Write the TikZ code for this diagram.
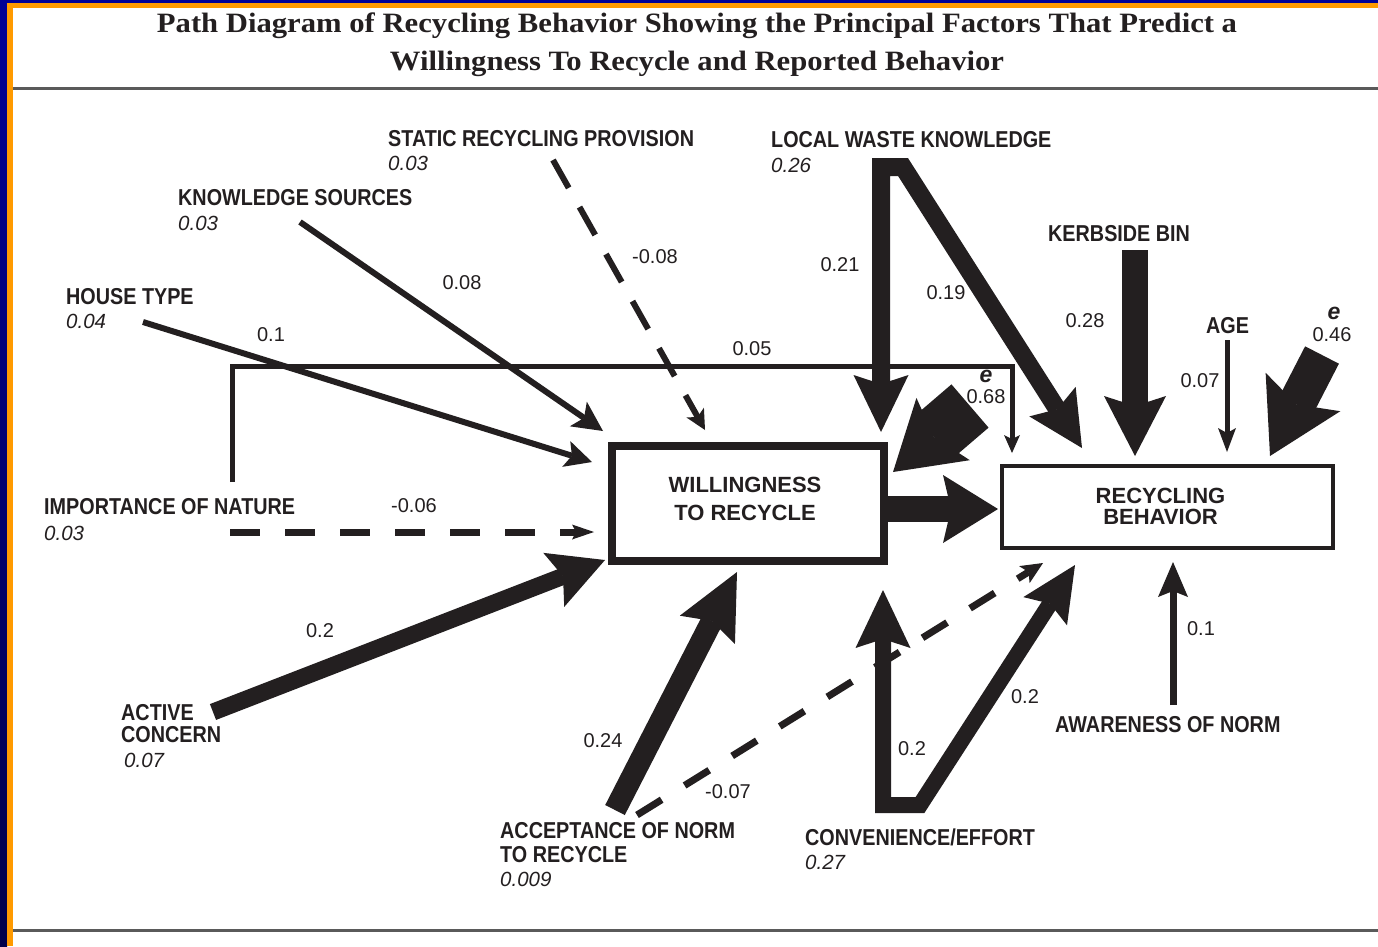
\documentclass[tikz,border=0pt]{standalone}
\usepackage{fontspec}
\usetikzlibrary{arrows.meta}
\setmainfont{Liberation Serif}
\newfontfamily\titlefam{Liberation Serif}[FakeStretch=1.095]
\newfontfamily\labelfam{Liberation Sans}[FakeStretch=0.86]
\newfontfamily\plainfam{Liberation Sans}
\definecolor{ink}{HTML}{231F20}
\definecolor{frametop}{HTML}{000096}
\definecolor{framelow}{HTML}{00004A}
\definecolor{frameorange}{HTML}{FF9A00}
\definecolor{rulegray}{HTML}{5A5A5A}
\tikzset{
  varname/.style={anchor=west, inner sep=0pt, text=ink, font=\labelfam\bfseries\fontsize{23}{22}\selectfont},
  varval/.style={anchor=west, inner sep=0pt, text=ink, font=\plainfam\itshape\fontsize{20.5}{22}\selectfont},
  coef/.style={inner sep=0pt, text=ink, font=\plainfam\fontsize{20}{22}\selectfont},
  errname/.style={inner sep=0pt, text=ink, font=\plainfam\bfseries\itshape\fontsize{23}{22}\selectfont},
  boxtext/.style={inner sep=0pt, text=ink, align=center, font=\plainfam\bfseries\fontsize{22}{28}\selectfont},
  titletext/.style={inner sep=0pt, anchor=base, text=ink, font=\titlefam\bfseries\fontsize{28}{32}\selectfont},
  conn/.style={draw=ink, line join=miter, line cap=butt},
  dashconn/.style={conn, dash pattern=on #1},
  tiphead/.style n args={3}{-{Stealth[length=#1, width=#2, inset=#3, line width=0pt]}},
}
\begin{document}
\begin{tikzpicture}[x=1pt, y=-1pt]
\useasboundingbox (0,0) rectangle (1378,946);
% page and frame
\fill[white] (0,0) rectangle (1378,946);
\shade[top color=frametop, bottom color=framelow] (0,0) rectangle (7,946);
\fill[frametop] (0,0) rectangle (1378,3);
\fill[frameorange] (7,3) rectangle (13,946);
\fill[frameorange] (7,3) rectangle (1378,8);
\draw[rulegray, line width=3pt] (13,88.5) -- (1378,88.5);
\draw[rulegray, line width=3pt] (13,930) -- (1378,930);

% title
\node[titletext] (title1) at (697,32)
  {Path Diagram of Recycling Behavior Showing the Principal Factors That Predict a};
\node[titletext] (title2) at (697,70)
  {Willingness To Recycle and Reported Behavior};

% the two outcome boxes
\node[draw=ink, line width=8pt, minimum width=272pt, minimum height=115pt, inner sep=0pt,
      label={[boxtext, xshift=-3pt, yshift=4.5pt]center:WILLINGNESS\\TO RECYCLE}] (will) at (748,503.5) {};
\node[draw=ink, line width=4pt, minimum width=331pt, minimum height=82pt, inner sep=0pt,
      label={[boxtext, font=\plainfam\bfseries\fontsize{22}{21}\selectfont, xshift=-7pt, yshift=0.5pt]center:RECYCLING\\BEHAVIOR}] (rb) at (1167.5,507) {};

% predictor labels
\node[varname] (srp) at (388,139) {STATIC RECYCLING PROVISION};
\node[varval] (srpv) at (388,163) {0.03};
\node[varname] (lwk) at (771,140) {LOCAL WASTE KNOWLEDGE};
\node[varval] (lwkv) at (771,165) {0.26};
\node[varname] (ks) at (178,198) {KNOWLEDGE SOURCES};
\node[varval] (ksv) at (178,223) {0.03};
\node[varname] (kb) at (1048,234) {KERBSIDE BIN};
\node[varname] (ht) at (66,297) {HOUSE TYPE};
\node[varval] (htv) at (66,321) {0.04};
\node[varname] (age) at (1206,326) {AGE};
\node[varname] (ion) at (44,507) {IMPORTANCE OF NATURE};
\node[varval] (ionv) at (44,533) {0.03};
\node[varname] (ac1) at (121,713) {ACTIVE};
\node[varname] (ac2) at (121,735) {CONCERN};
\node[varval] (acv) at (124,760) {0.07};
\node[varname] (an1) at (500,831) {ACCEPTANCE OF NORM};
\node[varname] (an2) at (500,855) {TO RECYCLE};
\node[varval] (anv) at (500,879) {0.009};
\node[varname] (ce) at (805,837) {CONVENIENCE/EFFORT};
\node[varval] (cev) at (805,862) {0.27};
\node[varname] (aw) at (1055,725) {AWARENESS OF NORM};

% residual terms
\node[errname] (e1) at (986,376) {e};
\node[coef] (e1v) at (986,397) {0.68};
\node[errname] (e2) at (1334,313) {e};
\node[coef] (e2v) at (1332,335) {0.46};

% path coefficients
\node[coef] (c1) at (462,283) {0.08};
\node[coef] (c2) at (655,257) {-0.08};
\node[coef] (c3) at (840,265) {0.21};
\node[coef] (c4) at (946,293) {0.19};
\node[coef] (c5) at (1085,321) {0.28};
\node[coef] (c6) at (1200,381) {0.07};
\node[coef] (c7) at (271,335) {0.1};
\node[coef] (c8) at (752,349) {0.05};
\node[coef] (c9) at (414,506) {-0.06};
\node[coef] (c10) at (320,631) {0.2};
\node[coef] (c11) at (603,741) {0.24};
\node[coef] (c12) at (728,792) {-0.07};
\node[coef] (c13) at (912,749) {0.2};
\node[coef] (c14) at (1025,697) {0.2};
\node[coef] (c15) at (1201,629) {0.1};

% connector end points
\coordinate (srpT) at (553,160);   \coordinate (srpH) at (705,430);
\coordinate (ksT) at (300,222);    \coordinate (ksH) at (603,431);
\coordinate (htT) at (143,322);    \coordinate (htH) at (592,462);
\coordinate (ionT) at (232,482);   \coordinate (ionH) at (1012,453);
\coordinate (iondT) at (230,532);  \coordinate (iondH) at (594,532);
\coordinate (lwkH1) at (881,432);  \coordinate (lwkH2) at (1082,448);
\coordinate (kbT) at (1135,250);   \coordinate (kbH) at (1135,456);
\coordinate (ageT) at (1227,340);  \coordinate (ageH) at (1227,452);
\coordinate (e2T) at (1322,355);   \coordinate (e2H) at (1270,456);
\coordinate (e1T) at (970,406);    \coordinate (e1H) at (893,472);
\coordinate (wT) at (888,509);     \coordinate (wH) at (998,509);
\coordinate (acT) at (213,712);    \coordinate (acH) at (605,560);
\coordinate (anT) at (615,810);    \coordinate (anH) at (737,572);
\coordinate (andT) at (637,815);   \coordinate (andH) at (1043,563);
\coordinate (ceH1) at (883,590);   \coordinate (ceH2) at (1075,565);
\coordinate (awT) at (1173,705);   \coordinate (awH) at (1173,562);

% paths into willingness
\draw[dashconn={32pt off 22pt}, line width=6pt, tiphead={20pt}{20pt}{5pt}] (srpT) -- (srpH);
\draw[conn, line width=6pt, tiphead={30pt}{30pt}{7pt}] (ksT) -- (ksH);
\draw[conn, line width=6pt, tiphead={27pt}{27pt}{6pt}] (htT) -- (htH);
\draw[conn, line width=5pt, tiphead={18pt}{16pt}{4pt}] (ionT) -- ++(0,-116) -| (ionH);
\draw[dashconn={30pt off 25pt}, line width=7pt, tiphead={22pt}{15pt}{4pt}] (iondT) -- (iondH);
\draw[conn, line width=18pt, {Stealth[length=57pt, width=55pt, inset=9pt, line width=0pt]}-{Stealth[length=55pt, width=55pt, inset=9pt, line width=0pt]}]
  (lwkH1) -- (881,167) -- (903,167) -- (lwkH2);
\draw[conn, line width=17pt, tiphead={55pt}{58pt}{10pt}] (acT) -- (acH);
\draw[conn, line width=22pt, tiphead={65pt}{62pt}{10pt}] (anT) -- (anH);
\draw[conn, line width=57pt, tiphead={66pt}{82pt}{12pt}] (e1T) -- (e1H);

% paths into recycling behaviour
\draw[conn, line width=26pt, tiphead={55pt}{68pt}{8pt}] (wT) -- (wH);
\draw[conn, line width=26pt, tiphead={60pt}{62pt}{10pt}] (kbT) -- (kbH);
\draw[conn, line width=5pt, tiphead={24pt}{18pt}{5pt}] (ageT) -- (ageH);
\draw[conn, line width=38pt, tiphead={72pt}{84pt}{14pt}] (e2T) -- (e2H);
\draw[dashconn={29pt off 27pt}, line width=7pt, tiphead={22pt}{20pt}{5pt}] (andT) -- (andH);
\draw[conn, line width=16pt, {Stealth[length=58pt, width=55pt, inset=9pt, line width=0pt]}-{Stealth[length=55pt, width=52pt, inset=9pt, line width=0pt]}]
  (ceH1) -- (883,805) -- (920,805) -- (ceH2);
\draw[conn, line width=7pt, tiphead={35pt}{30pt}{6pt}] (awT) -- (awH);
\end{tikzpicture}
\end{document}
